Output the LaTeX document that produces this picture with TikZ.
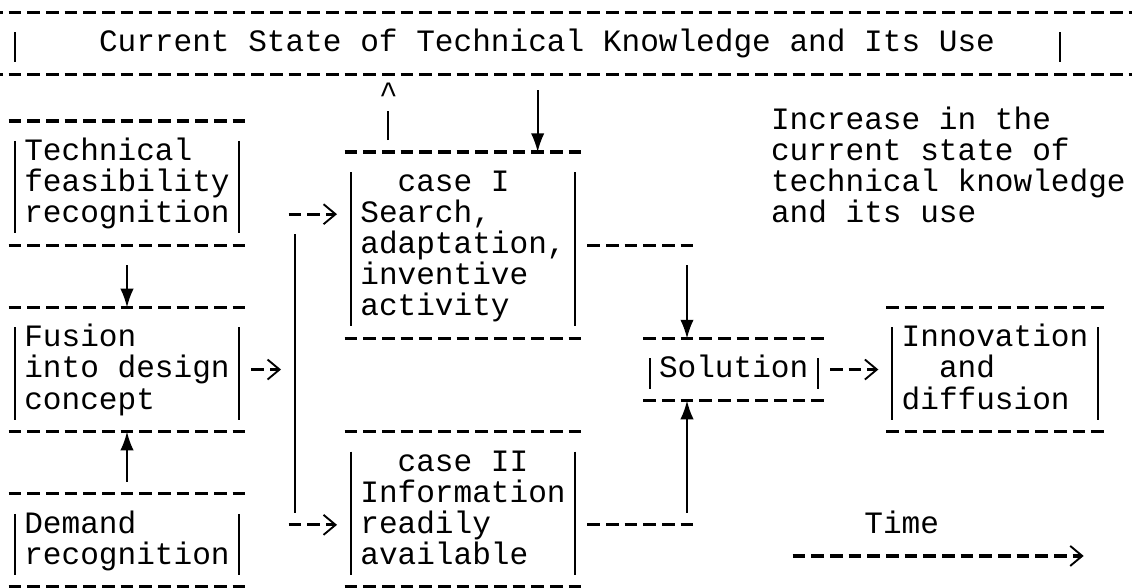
\documentclass[tikz,border=0pt]{standalone}
\usepackage{fontspec}
\newfontfamily\typewriter{Liberation Mono}
\usetikzlibrary{arrows.meta}

% Typed lines on a fixed 23.3pt line pitch, each line a box of width #1
\newcommand\typed[2]{\vtop{\baselineskip=23.3pt\lineskiplimit=-\maxdimen\lineskip=0pt
  \def\tline##1{\hbox to #1{##1\hfil}}#2}}

\tikzset{
  every node/.style={font=\typewriter\fontsize{23.33pt}{23.3pt}\selectfont, text=black},
  % column pitch 14pt, row pitch 23.3pt; a box runs from its left bar column to its right bar column
  tbox/.style={anchor=north west, inner xsep=7pt, inner ysep=11.65pt, outer sep=0pt,
    text height=17.95pt, text depth=#1},
  dashrule/.style={line width=2.4pt, dash pattern=on 9.5pt off 4.5pt},
  barrule/.style={line width=1.3pt},
  handarrow/.style={line width=1.3pt, -{Latex[length=14pt,width=10pt]}},
  asciiarrow/.style={line width=2.4pt, dash pattern=on 9.5pt off 4.5pt,
    -{Straight Barb[length=9pt,width=15pt,line width=1.4pt,sep=1pt]}},
}

\begin{document}
\begin{tikzpicture}[x=1pt, y=-1pt]
\fill[white] (0,0) rectangle (849,441);
\useasboundingbox (0,0) rectangle (849,441);

% title strip
\node[tbox=5.35pt] (title) at (11.25,9.2)
  {\typed{770pt}{\tline{\hskip56pt Current State of Technical Knowledge and Its Use}}};

% left column
\node[tbox=51.95pt] (tech) at (11.25,90.75)
  {\typed{154pt}{\tline{Technical}\tline{feasibility}\tline{recognition}}};
\node[tbox=51.95pt] (fus) at (11.25,230.55)
  {\typed{154pt}{\tline{Fusion}\tline{into design}\tline{concept}}};
\node[tbox=28.65pt] (dem) at (11.25,370.35)
  {\typed{154pt}{\tline{Demand}\tline{recognition}}};

% the two cases
\node[tbox=98.55pt] (caseI) at (263.25,114.05)
  {\typed{154pt}{\tline{\hskip28pt case I}\tline{Search,}\tline{adaptation,}\tline{inventive}\tline{activity}}};
\node[tbox=75.25pt] (caseII) at (263.25,323.75)
  {\typed{154pt}{\tline{\hskip28pt case II}\tline{Information}\tline{readily}\tline{available}}};

% solution and its outcome
\node[tbox=5.35pt] (sol) at (487.25,253.85)
  {\typed{112pt}{\tline{Solution}}};
\node[tbox=51.95pt] (innov) at (669.25,230.55)
  {\typed{140pt}{\tline{Innovation}\tline{\hskip28pt and}\tline{diffusion}}};

% free text
\node[tbox=75.25pt] (gain) at (571.25,67.45)
  {\typed{266pt}{\tline{Increase in the}\tline{current state of}\tline{technical knowledge}\tline{and its use}}};
\node[tbox=5.35pt] (time) at (641.25,370.35)
  {\typed{56pt}{\tline{Time}}};
\node[anchor=base, inner sep=0pt] (up) at (291.25,78) {\textasciicircum};

% box outlines: typed dashes above and below, bars at the sides
\foreach \n in {tech,fus,dem,caseI,caseII,sol,innov}{
  \draw[dashrule] ([xshift=-4.75pt]\n.north west) -- ([xshift=4.75pt]\n.north east);
  \draw[dashrule] ([xshift=-4.75pt]\n.south west) -- ([xshift=4.75pt]\n.south east);
  \draw[barrule] ([yshift=-15pt]\n.north west) -- ([yshift=9pt]\n.south west);
  \draw[barrule] ([yshift=-15pt]\n.north east) -- ([yshift=9pt]\n.south east);
}
\draw[dashrule] ([xshift=-18.75pt]title.north west) -- ([xshift=74.75pt]title.north east);
\draw[dashrule] ([xshift=-18.75pt]title.south west) -- ([xshift=74.75pt]title.south east);
\draw[barrule] ([yshift=-15pt]title.north west) -- ([yshift=9pt]title.south west);
\draw[barrule] ([yshift=-15pt]title.north east) -- ([yshift=9pt]title.south east);

% left column flow
\draw[handarrow] ([yshift=-15pt]tech.south) -- (fus.north);
\draw[handarrow] ([yshift=9pt]dem.north) -- (fus.south);

% distribution line to the two cases
\coordinate (busT) at (221.25,160.65);
\coordinate (busB) at (221.25,393.65);
\draw[asciiarrow, shorten >=9.5pt] ([xshift=9.25pt]fus.east) -- (fus.east -| busT);
\draw[barrule] ([yshift=-15pt]busT) -- ([yshift=9pt]busB);
\draw[asciiarrow, shorten >=9.5pt] ([xshift=-4.75pt]busT) -- (caseI.west |- busT);
\draw[asciiarrow, shorten >=9.5pt] ([xshift=-4.75pt]busB) -- (caseII.west |- busB);

% links with the current state of knowledge
\coordinate (cIa) at ([xshift=140pt]caseI.north west);
\coordinate (tA) at (cIa |- title.south);
\draw[handarrow] ([yshift=-12pt]tA) -- (cIa);
\coordinate (cIb) at ([xshift=28pt]caseI.north west);
\draw[barrule] ([yshift=9pt]cIb) -- ([yshift=-5pt]up.base);

% both cases feed the solution
\coordinate (solIn) at ([xshift=28pt]sol.north west);
\coordinate (solOut) at ([xshift=28pt]sol.south west);
\coordinate (jI) at (solIn |- caseI.east);
\coordinate (jII) at (solOut |- busB);
\coordinate (cIIout) at (caseII.east |- busB);
\draw[dashrule] ([xshift=9.25pt]caseI.east) -- ([xshift=4.75pt]jI);
\draw[dashrule] ([xshift=9.25pt]cIIout) -- ([xshift=4.75pt]jII);
\draw[handarrow] ([yshift=-15pt]jI) -- (solIn);
\draw[handarrow] ([yshift=9pt]jII) -- (solOut);
\draw[asciiarrow, shorten >=9.5pt] ([xshift=9.25pt]sol.east) -- (innov.west);

% time axis
\coordinate (tS) at (594.5,416.95);
\coordinate (tE) at (813.75,416.95);
\draw[asciiarrow] (tS) -- (tE);
\end{tikzpicture}
\end{document}
